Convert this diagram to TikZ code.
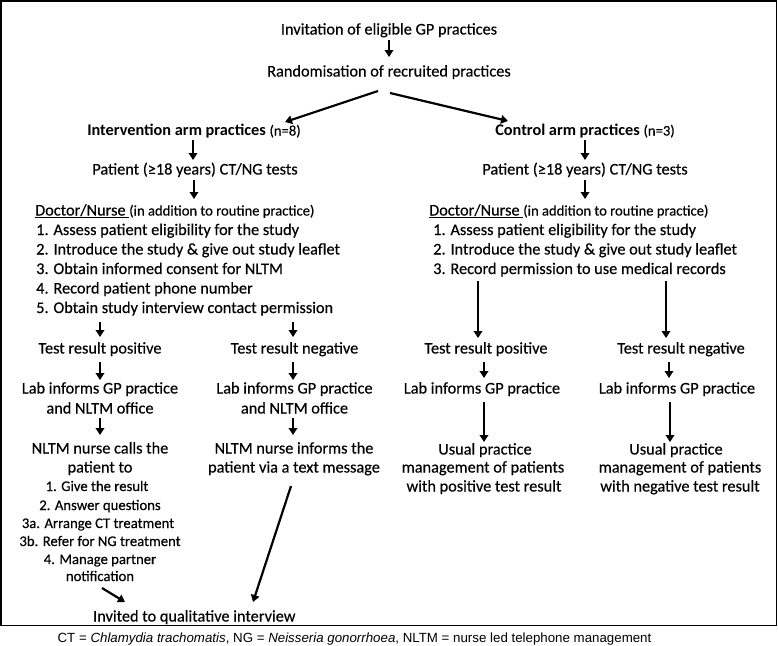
\documentclass[tikz,border=0pt]{standalone}
\usepackage{fontspec}
\setmainfont{Carlito}[UprightFeatures={FakeBold=0.35}]
\newfontfamily\arialf{Liberation Sans}
\usetikzlibrary{arrows.meta,calc}
\begin{document}
\begin{tikzpicture}[x=1pt,y=-1pt,
  t/.style={inner sep=0pt, font=\fontsize{16.3}{19.5}\selectfont, anchor=base},
  s/.style={inner sep=0pt, font=\fontsize{14.7}{18}\selectfont, anchor=base},
  arr/.style={line width=2.2pt, -{Triangle[length=7pt,width=8.5pt]}},
  frame/.style={line width=1.3pt}]
\newcommand{\sm}[1]{{\fontsize{14.6}{18}\selectfont #1}}
\useasboundingbox (0,0) rectangle (778,645);
\draw[frame] (1,1) rectangle (776.5,625.5);

% top
\node[t] (invit) at (389,34.5) {Invitation of eligible GP practices};
\node[t] (rand) at (389,76.5) {Randomisation of recruited practices};
\node[t] (intv) at (194,135.5) {\textbf{Intervention arm practices} \sm{(n=8)}};
\node[t] (ctrl) at (585,135.5) {\textbf{Control arm practices} \sm{(n=3)}};
\node[t] (patL) at (195,174.5) {Patient (≥18 years) CT/NG tests};
\node[t] (patR) at (585,174.5) {Patient (≥18 years) CT/NG tests};

% left doctor list
\node[t,anchor=base west] (dL0) at (35,215.5) {\underline{Doctor/Nurse\ }\sm{(in addition to routine practice)}};
\node[t,anchor=base west] (dL1) at (36,235) {1. Assess patient eligibility for the study};
\node[t,anchor=base west] (dL2) at (36,254.5) {2. Introduce the study \& give out study leaflet};
\node[t,anchor=base west] (dL3) at (36,274) {3. Obtain informed consent for NLTM};
\node[t,anchor=base west] (dL4) at (36,293.5) {4. Record patient phone number};
\node[t,anchor=base west] (dL5) at (36,313) {5. Obtain study interview contact permission};

% right doctor list
\node[t,anchor=base west] (dR0) at (429,215.5) {\underline{Doctor/Nurse\ }\sm{(in addition to routine practice)}};
\node[t,anchor=base west] (dR1) at (433,235) {1. Assess patient eligibility for the study};
\node[t,anchor=base west] (dR2) at (433,254.5) {2. Introduce the study \& give out study leaflet};
\node[t,anchor=base west] (dR3) at (433,274) {3. Record permission to use medical records};

% lower left
\node[t] (posL) at (100,353.5) {Test result positive};
\node[t] (negL) at (294.5,353.5) {Test result negative};
\node[t] (labL1) at (100,393.5) {Lab informs GP practice};
\node[t] (labL2) at (100,413.5) {and NLTM office};
\node[t] (labN1) at (294.5,393.5) {Lab informs GP practice};
\node[t] (labN2) at (294.5,413.5) {and NLTM office};
\node[t] (nurL1) at (100,453.5) {NLTM nurse calls the};
\node[t] (nurL2) at (100,472.5) {patient to};
\node[t] (nurN1) at (294,453.5) {NLTM nurse informs the};
\node[t] (nurN2) at (294,472.5) {patient via a text message};
\node[s] (st1) at (97,491) {1. Give the result};
\node[s] (st2) at (100,510) {2. Answer questions};
\node[s] (st3) at (98,528) {3a. Arrange CT treatment};
\node[s] (st4) at (100,546) {3b. Refer for NG treatment};
\node[s] (st5) at (100,564) {4. Manage partner};
\node[s] (st6) at (100,581) {notification};
\node[t] (invited) at (194.3,621.5) {Invited to qualitative interview};

% lower right
\node[t] (posR) at (486,353.5) {Test result positive};
\node[t] (negR) at (681,353.5) {Test result negative};
\node[t] (clab1) at (482,393.5) {Lab informs GP practice};
\node[t] (clab2) at (677,393.5) {Lab informs GP practice};
\node[t] (us1) at (485,454.5) {Usual practice};
\node[t] (us2) at (483,472.5) {management of patients};
\node[t] (us3) at (484,491.5) {with positive test result};
\node[t] (usN1) at (676,454.5) {Usual practice};
\node[t] (usN2) at (680,472.5) {management of patients};
\node[t] (usN3) at (680,491.5) {with negative test result};

% footnote
\node[inner sep=0pt, anchor=base, font=\arialf\fontsize{13.3}{16}\selectfont] (foot) at (354.5,642.5)
  {CT = \textit{Chlamydia trachomatis}, NG = \textit{Neisseria gonorrhoea}, NLTM = nurse led telephone management};

% arrows
\draw[arr] ($(invit.base)+(0,5.5)$) -- ($(rand.base)+(0,-19.5)$);
\draw[arr] ($(rand.base)+(-11,14.5)$) -- ($(intv.base)+(91,-13.5)$);
\draw[arr] ($(rand.base)+(1,16.5)$) -- ($(ctrl.base)+(-77,-14.5)$);
\draw[arr] ($(intv.base)+(-1,4.5)$) -- ($(patL.base)+(-2,-14.5)$);
\draw[arr] ($(ctrl.base)+(0,4.5)$) -- ($(patR.base)+(0,-14.5)$);
\draw[arr] ($(patL.base)+(-1,5.5)$) -- ($(patL.base |- dL0.base)+(-1,-16.5)$);
\draw[arr] ($(patR.base)+(0,5.5)$) -- ($(patR.base |- dR0.base)+(0,-16.5)$);
\draw[arr] ($(posL.base |- dL5.base)+(0,9)$) -- ($(posL.base)+(0,-16.5)$);
\draw[arr] ($(negL.base |- dL5.base)+(-1.5,9)$) -- ($(negL.base)+(-1.5,-16.5)$);
\draw[arr] ($(posL.base)+(0,8.5)$) -- ($(labL1.base)+(0,-13.5)$);
\draw[arr] ($(negL.base)+(-1.5,8.5)$) -- ($(labN1.base)+(-1.5,-13.5)$);
\draw[arr] ($(labL2.base)+(0,4.5)$) -- ($(nurL1.base)+(0,-18.5)$);
\draw[arr] ($(labN2.base)+(-1.5,4.5)$) -- ($(nurN1.base)+(-1,-18.5)$);
\draw[arr] ($(st6.base)+(2,7)$) -- ($(invited.base)+(-69.3,-19.5)$);
\draw[arr] ($(nurN2.base)+(-3,13.5)$) -- ($(invited.base)+(58.7,-19.5)$);
\draw[arr] ($(posR.base |- dR3.base)+(-8,7)$) -- ($(posR.base)+(-8,-15.5)$);
\draw[arr] ($(negR.base |- dR3.base)+(-15,7)$) -- ($(negR.base)+(-15,-15.5)$);
\draw[arr] ($(posR.base)+(-2,8.5)$) -- ($(clab1.base)+(2,-15.5)$);
\draw[arr] ($(negR.base)+(-12,8.5)$) -- ($(clab2.base)+(-8,-15.5)$);
\draw[arr] ($(clab1.base)+(2,8.5)$) -- ($(us1.base)+(-1,-12.5)$);
\draw[arr] ($(clab2.base)+(-7,8.5)$) -- ($(usN1.base)+(-6,-12.5)$);
\end{tikzpicture}
\end{document}
